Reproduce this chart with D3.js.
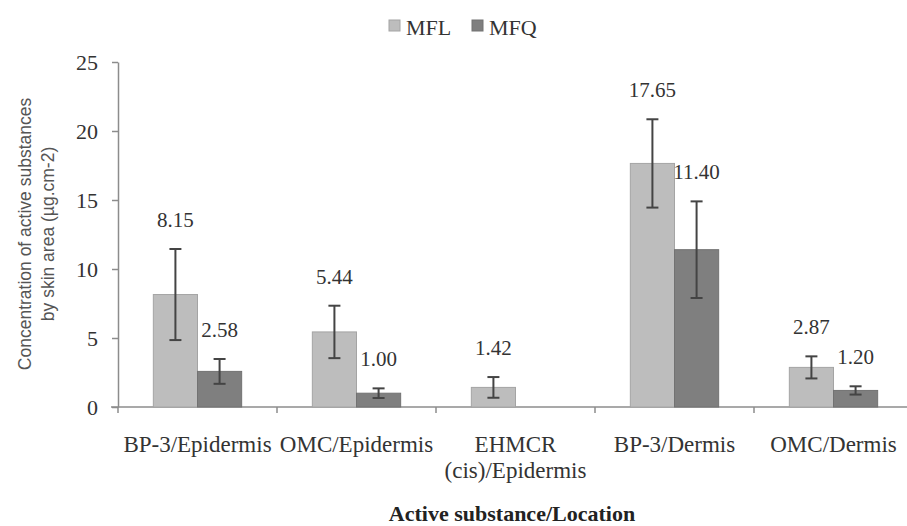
<!DOCTYPE html>
<html><head><meta charset="utf-8">
<script src="https://cdn.jsdelivr.net/npm/d3@7"></script>
<style>
html,body{margin:0;padding:0;background:#fff;}
svg{display:block;}
</style></head>
<body>
<svg id="chart" width="907" height="526"></svg>
<script>
const categories = ["BP-3/Epidermis", "OMC/Epidermis", "EHMCR\n(cis)/Epidermis", "BP-3/Dermis", "OMC/Dermis"];
const seriesNames = ["MFL", "MFQ"];
const mflValues = [8.15, 5.44, 1.42, 17.65, 2.87];
const mfqValues = [2.58, 1.00, null, 11.40, 1.20];
const mflErrors = [3.3, 1.9, 0.75, 3.2, 0.8];
const mfqErrors = [0.9, 0.35, null, 3.5, 0.3];
const yTicks = [0, 5, 10, 15, 20, 25];

(function () {
const colors = {MFL: "#bdbdbd", MFQ: "#7f7f7f"};
const strokes = {MFL: "#a4a4a4", MFQ: "#727272"};
const serif = "'Liberation Serif', 'Times New Roman', serif";
const sans = "'Liberation Sans', Arial, sans-serif";

const svg = d3.select("#chart");
const pLeft = 118, pRight = 913, pTop = 62, pBottom = 407;

const x0 = d3.scaleBand().domain(categories).range([pLeft, pRight]).padding(0);
const x1 = d3.scaleBand().domain(seriesNames).range([0, x0.bandwidth()]).paddingInner(0).paddingOuter(0.8);
const y = d3.scaleLinear().domain([0, 25]).range([pBottom, pTop]);

const data = categories.map((c, i) => ({
  cat: c,
  items: [
    {s: "MFL", v: mflValues[i], e: mflErrors[i]},
    {s: "MFQ", v: mfqValues[i], e: mfqErrors[i]}
  ].filter(d => d.v !== null)
}));

// Y axis
const yAxis = d3.axisLeft(y).tickValues(yTicks).tickSize(6).tickPadding(14).tickSizeOuter(0);
const yg = svg.append("g").attr("transform", `translate(${pLeft},0)`).call(yAxis);
yg.select(".domain").attr("stroke", "#8c8c8c").attr("stroke-width", 1.5);
yg.selectAll(".tick line").attr("stroke", "#8c8c8c").attr("stroke-width", 1.5);
yg.selectAll(".tick text").attr("font-family", serif).attr("font-size", 22).attr("fill", "#333");

// X axis line
svg.append("line").attr("x1", pLeft - 7).attr("x2", 907).attr("y1", y(0)).attr("y2", y(0))
  .attr("stroke", "#8c8c8c").attr("stroke-width", 1.5);
const boundaries = categories.map(c => x0(c)).concat([x0(categories[categories.length - 1]) + x0.bandwidth()]);
svg.selectAll(".xtick").data(boundaries.filter(b => b <= 907)).join("line")
  .attr("x1", d => d).attr("x2", d => d).attr("y1", y(0)).attr("y2", y(0) + 6)
  .attr("stroke", "#8c8c8c").attr("stroke-width", 1.5);

// Category labels
categories.forEach(c => {
  const lines = c.split("\n");
  const t = svg.append("text").attr("font-family", serif).attr("font-size", 23).attr("fill", "#333")
    .attr("text-anchor", "middle");
  lines.forEach((l, i) => {
    t.append("tspan").attr("x", x0(c) + x0.bandwidth() / 2).attr("y", 452 + i * 26).text(l);
  });
});

// Bars
const groups = svg.selectAll(".grp").data(data).join("g")
  .attr("transform", d => `translate(${x0(d.cat)},0)`);
groups.selectAll("rect").data(d => d.items).join("rect")
  .attr("x", d => x1(d.s)).attr("width", x1.bandwidth())
  .attr("y", d => y(d.v)).attr("height", d => y(0) - y(d.v))
  .attr("fill", d => colors[d.s]).attr("stroke", d => strokes[d.s]).attr("stroke-width", 1);

// Error bars
groups.each(function(d) {
  const g = d3.select(this);
  d.items.forEach(it => {
    const cx = x1(it.s) + x1.bandwidth() / 2;
    const y1v = y(it.v + it.e), y2v = y(it.v - it.e);
    g.append("line").attr("x1", cx).attr("x2", cx).attr("y1", y1v).attr("y2", y2v)
      .attr("stroke", "#444").attr("stroke-width", 2);
    [y1v, y2v].forEach(yy => g.append("line").attr("x1", cx - 6).attr("x2", cx + 6)
      .attr("y1", yy).attr("y2", yy).attr("stroke", "#444").attr("stroke-width", 2));
    g.append("text").attr("x", cx).attr("y", y1v - 22)
      .attr("text-anchor", "middle").attr("font-family", serif).attr("font-size", 21).attr("fill", "#333")
      .text(it.v.toFixed(2));
  });
});

// Y title
const yt = svg.append("text").attr("transform", "rotate(-90)")
  .attr("font-family", sans).attr("font-size", 17.5).attr("fill", "#555").attr("text-anchor", "middle");
yt.append("tspan").attr("x", -234).attr("y", 31).text("Concentration of active substances");
yt.append("tspan").attr("x", -234).attr("y", 54).text("by skin area  (µg.cm-2)");

// X title
svg.append("text").attr("x", 512).attr("y", 521).attr("text-anchor", "middle")
  .attr("font-family", serif).attr("font-size", 22).attr("font-weight", "bold").attr("fill", "#222")
  .text("Active substance/Location");

// Legend
const legendX = [389, 472];
seriesNames.forEach((s, i) => {
  svg.append("rect").attr("x", legendX[i]).attr("y", 20).attr("width", 11).attr("height", 11)
    .attr("fill", colors[s]).attr("stroke", strokes[s]);
  svg.append("text").attr("x", legendX[i] + 17).attr("y", 35).attr("font-family", serif)
    .attr("font-size", 22).attr("fill", "#333").text(s);
});
})();
</script>
</body></html>
